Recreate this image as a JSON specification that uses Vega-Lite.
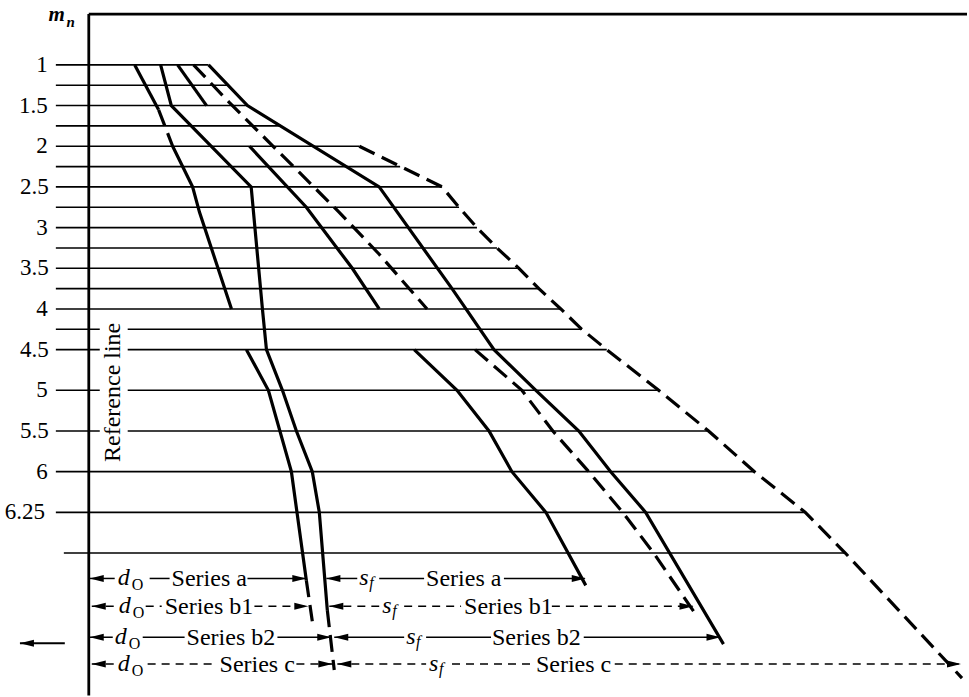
{
  "$schema": "https://vega.github.io/schema/vega-lite/v6.json",
  "width": 969,
  "height": 697,
  "autosize": {"type": "fit", "contains": "padding"},
  "padding": 0,
  "background": "white",
  "config": {"view": {"stroke": null}, "text": {"font": "Liberation Serif", "color": "black"}},
  "datasets": {
    "grid": [
      {"x": -3.75, "x2": 13.64, "y": 0},
      {"x": -3.75, "x2": 15.91, "y": 1},
      {"x": -3.75, "x2": 18.07, "y": 2},
      {"x": -3.75, "x2": 21.82, "y": 3},
      {"x": -3.75, "x2": 30.8, "y": 4},
      {"x": -3.75, "x2": 35.45, "y": 5},
      {"x": -3.75, "x2": 40.23, "y": 6},
      {"x": -3.75, "x2": 42.16, "y": 7},
      {"x": -3.75, "x2": 44.2, "y": 8},
      {"x": -3.75, "x2": 46.48, "y": 9},
      {"x": -3.75, "x2": 48.98, "y": 10},
      {"x": -3.75, "x2": 51.25, "y": 11},
      {"x": -3.75, "x2": 53.75, "y": 12},
      {"x": -3.75, "x2": 1.25, "y": 13},
      {"x": 4.43, "x2": 56.14, "y": 13},
      {"x": -3.75, "x2": 1.25, "y": 14},
      {"x": 4.43, "x2": 58.98, "y": 14},
      {"x": -3.75, "x2": 1.25, "y": 16},
      {"x": 4.43, "x2": 64.89, "y": 16},
      {"x": -3.75, "x2": 1.25, "y": 18},
      {"x": 4.43, "x2": 70.57, "y": 18},
      {"x": -3.75, "x2": 75.8, "y": 20},
      {"x": -3.75, "x2": 81.59, "y": 22},
      {"x": -2.84, "x2": 86.14, "y": 24}
    ],
    "frameTop": [{"x": 0, "x2": 100, "y": -2.5}],
    "frameLeft": [{"x": 0, "y": -2.5, "y2": 31}],
    "curves": [
      {"seg": "c1a", "style": "solid", "i": 0, "x": 5.23, "y": 0},
      {"seg": "c1a", "style": "solid", "i": 1, "x": 7.95, "y": 2.21},
      {"seg": "c1b", "style": "dashed", "i": 0, "x": 7.95, "y": 2.21},
      {"seg": "c1b", "style": "dashed", "i": 1, "x": 9.55, "y": 4},
      {"seg": "c1c", "style": "solid", "i": 0, "x": 9.55, "y": 4},
      {"seg": "c1c", "style": "solid", "i": 1, "x": 11.82, "y": 6},
      {"seg": "c1c", "style": "solid", "i": 2, "x": 12.61, "y": 7.25},
      {"seg": "c1c", "style": "solid", "i": 3, "x": 16.25, "y": 12},
      {"seg": "c2a", "style": "solid", "i": 0, "x": 8.18, "y": 0},
      {"seg": "c2a", "style": "solid", "i": 1, "x": 9.4, "y": 2},
      {"seg": "c2a", "style": "solid", "i": 2, "x": 18.49, "y": 6},
      {"seg": "c2a", "style": "solid", "i": 3, "x": 19.77, "y": 12},
      {"seg": "c2a", "style": "solid", "i": 4, "x": 20.23, "y": 14},
      {"seg": "c2a", "style": "solid", "i": 5, "x": 22.05, "y": 16},
      {"seg": "c2a", "style": "solid", "i": 6, "x": 23.64, "y": 18},
      {"seg": "c2a", "style": "solid", "i": 7, "x": 25.45, "y": 20},
      {"seg": "c2a", "style": "solid", "i": 8, "x": 26.25, "y": 22},
      {"seg": "c2a", "style": "solid", "i": 9, "x": 27.16, "y": 26.81},
      {"seg": "c2b", "style": "dashed", "i": 0, "x": 27.16, "y": 26.81},
      {"seg": "c2b", "style": "dashed", "i": 1, "x": 27.95, "y": 29.75},
      {"seg": "c3", "style": "solid", "i": 0, "x": 10.11, "y": 0},
      {"seg": "c3", "style": "solid", "i": 1, "x": 13.41, "y": 2},
      {"seg": "c4", "style": "dashed", "i": 0, "x": 11.93, "y": 0},
      {"seg": "c4", "style": "dashed", "i": 1, "x": 16.02, "y": 1.86},
      {"seg": "c4", "style": "dashed", "i": 2, "x": 23.98, "y": 5.29},
      {"seg": "c4", "style": "dashed", "i": 3, "x": 28.52, "y": 7.25},
      {"seg": "c4", "style": "dashed", "i": 4, "x": 33.07, "y": 9.31},
      {"seg": "c4", "style": "dashed", "i": 5, "x": 38.52, "y": 12},
      {"seg": "c5", "style": "solid", "i": 0, "x": 13.64, "y": 0},
      {"seg": "c5", "style": "solid", "i": 1, "x": 18.07, "y": 2},
      {"seg": "c5", "style": "solid", "i": 2, "x": 33.07, "y": 6},
      {"seg": "c5", "style": "solid", "i": 3, "x": 41.36, "y": 11},
      {"seg": "c5", "style": "solid", "i": 4, "x": 46.14, "y": 14},
      {"seg": "c5", "style": "solid", "i": 5, "x": 50.91, "y": 16},
      {"seg": "c5", "style": "solid", "i": 6, "x": 55.8, "y": 18},
      {"seg": "c5", "style": "solid", "i": 7, "x": 59.43, "y": 20},
      {"seg": "c5", "style": "solid", "i": 8, "x": 63.41, "y": 22},
      {"seg": "c5", "style": "solid", "i": 9, "x": 72.27, "y": 28.48},
      {"seg": "c6", "style": "dashed", "i": 0, "x": 30.8, "y": 4},
      {"seg": "c6", "style": "dashed", "i": 1, "x": 40.23, "y": 6},
      {"seg": "c6", "style": "dashed", "i": 2, "x": 42.16, "y": 7},
      {"seg": "c6", "style": "dashed", "i": 3, "x": 44.2, "y": 8},
      {"seg": "c6", "style": "dashed", "i": 4, "x": 46.48, "y": 9},
      {"seg": "c6", "style": "dashed", "i": 5, "x": 48.98, "y": 10},
      {"seg": "c6", "style": "dashed", "i": 6, "x": 51.25, "y": 11},
      {"seg": "c6", "style": "dashed", "i": 7, "x": 53.75, "y": 12},
      {"seg": "c6", "style": "dashed", "i": 8, "x": 56.14, "y": 13},
      {"seg": "c6", "style": "dashed", "i": 9, "x": 58.98, "y": 14},
      {"seg": "c6", "style": "dashed", "i": 10, "x": 64.89, "y": 16},
      {"seg": "c6", "style": "dashed", "i": 11, "x": 70.57, "y": 18},
      {"seg": "c6", "style": "dashed", "i": 12, "x": 75.8, "y": 20},
      {"seg": "c6", "style": "dashed", "i": 13, "x": 81.59, "y": 22},
      {"seg": "c6", "style": "dashed", "i": 14, "x": 86.14, "y": 24},
      {"seg": "c6", "style": "dashed", "i": 15, "x": 99.43, "y": 30.15},
      {"seg": "c7", "style": "solid", "i": 0, "x": 18.3, "y": 4},
      {"seg": "c7", "style": "solid", "i": 1, "x": 24.77, "y": 7},
      {"seg": "c7", "style": "solid", "i": 2, "x": 30.0, "y": 10},
      {"seg": "c7", "style": "solid", "i": 3, "x": 33.07, "y": 12},
      {"seg": "c8a", "style": "solid", "i": 0, "x": 17.95, "y": 14},
      {"seg": "c8a", "style": "solid", "i": 1, "x": 20.45, "y": 16},
      {"seg": "c8a", "style": "solid", "i": 2, "x": 23.07, "y": 20},
      {"seg": "c8a", "style": "solid", "i": 3, "x": 24.77, "y": 25.34},
      {"seg": "c8b", "style": "dashed", "i": 0, "x": 24.77, "y": 25.34},
      {"seg": "c8b", "style": "dashed", "i": 1, "x": 25.45, "y": 27.35},
      {"seg": "c9", "style": "solid", "i": 0, "x": 37.05, "y": 14},
      {"seg": "c9", "style": "solid", "i": 1, "x": 41.93, "y": 16},
      {"seg": "c9", "style": "solid", "i": 2, "x": 45.57, "y": 18},
      {"seg": "c9", "style": "solid", "i": 3, "x": 48.18, "y": 20},
      {"seg": "c9", "style": "solid", "i": 4, "x": 52.05, "y": 22},
      {"seg": "c9", "style": "solid", "i": 5, "x": 56.59, "y": 25.59},
      {"seg": "c10", "style": "dashed", "i": 0, "x": 43.98, "y": 14},
      {"seg": "c10", "style": "dashed", "i": 1, "x": 49.32, "y": 16},
      {"seg": "c10", "style": "dashed", "i": 2, "x": 52.84, "y": 18},
      {"seg": "c10", "style": "dashed", "i": 3, "x": 56.93, "y": 20},
      {"seg": "c10", "style": "dashed", "i": 4, "x": 60.8, "y": 22},
      {"seg": "c10", "style": "dashed", "i": 5, "x": 64.32, "y": 24},
      {"seg": "c10", "style": "dashed", "i": 6, "x": 68.86, "y": 26.86}
    ],
    "arrows": [
      {"style": "solid", "x": 0.11, "x2": 2.95, "y": 25.25},
      {"style": "solid", "x": 6.93, "x2": 9.2, "y": 25.25},
      {"style": "solid", "x": 18.07, "x2": 24.66, "y": 25.25},
      {"style": "solid", "x": 27.05, "x2": 30.57, "y": 25.25},
      {"style": "solid", "x": 33.07, "x2": 38.18, "y": 25.25},
      {"style": "solid", "x": 47.27, "x2": 56.48, "y": 25.25},
      {"style": "dashed", "x": 0.34, "x2": 2.84, "y": 26.62},
      {"style": "dashed", "x": 6.48, "x2": 8.3, "y": 26.62},
      {"style": "dashed", "x": 18.86, "x2": 24.89, "y": 26.62},
      {"style": "dashed", "x": 27.39, "x2": 33.07, "y": 26.62},
      {"style": "dashed", "x": 35.91, "x2": 42.39, "y": 26.62},
      {"style": "dashed", "x": 52.73, "x2": 68.75, "y": 26.62},
      {"style": "solid", "x": 0.11, "x2": 2.73, "y": 28.14},
      {"style": "solid", "x": 6.14, "x2": 10.91, "y": 28.14},
      {"style": "solid", "x": 21.48, "x2": 27.5, "y": 28.14},
      {"style": "solid", "x": 27.95, "x2": 35.91, "y": 28.14},
      {"style": "solid", "x": 38.41, "x2": 45.8, "y": 28.14},
      {"style": "solid", "x": 56.36, "x2": 71.82, "y": 28.14},
      {"style": "dashed", "x": 0.34, "x2": 2.84, "y": 29.46},
      {"style": "dashed", "x": 6.7, "x2": 14.55, "y": 29.46},
      {"style": "dashed", "x": 23.64, "x2": 27.73, "y": 29.46},
      {"style": "dashed", "x": 28.3, "x2": 38.41, "y": 29.46},
      {"style": "dashed", "x": 41.36, "x2": 50.45, "y": 29.46},
      {"style": "dashed", "x": 59.89, "x2": 99.2, "y": 29.46}
    ],
    "sideArrow": [{"x": -7.84, "x2": -2.73, "y": 28.43}],
    "headsLeft": [
      {"x": 0.11, "y": 25.25},
      {"x": 0.34, "y": 26.62},
      {"x": 0.11, "y": 28.14},
      {"x": 0.34, "y": 29.46},
      {"x": 27.05, "y": 25.25},
      {"x": 27.39, "y": 26.62},
      {"x": 27.95, "y": 28.14},
      {"x": 28.3, "y": 29.46},
      {"x": -7.84, "y": 28.43}
    ],
    "headsRight": [
      {"x": 24.77, "y": 25.25},
      {"x": 25.0, "y": 26.62},
      {"x": 27.61, "y": 28.14},
      {"x": 27.73, "y": 29.46},
      {"x": 56.59, "y": 25.25},
      {"x": 68.86, "y": 26.62},
      {"x": 71.93, "y": 28.14},
      {"x": 99.32, "y": 29.46}
    ],
    "ticks": [
      {"x": -4.66, "y": 0, "text": "1"},
      {"x": -4.66, "y": 2, "text": "1.5"},
      {"x": -4.66, "y": 4, "text": "2"},
      {"x": -4.55, "y": 6, "text": "2.5"},
      {"x": -4.66, "y": 8, "text": "3"},
      {"x": -4.55, "y": 10, "text": "3.5"},
      {"x": -4.66, "y": 12, "text": "4"},
      {"x": -4.55, "y": 14, "text": "4.5"},
      {"x": -4.66, "y": 16, "text": "5"},
      {"x": -4.55, "y": 18, "text": "5.5"},
      {"x": -4.66, "y": 20, "text": "6"},
      {"x": -5.0, "y": 22, "text": "6.25"}
    ],
    "series": [
      {"x": 9.43, "y": 25.25, "text": "Series a"},
      {"x": 8.64, "y": 26.62, "text": "Series b1"},
      {"x": 11.14, "y": 28.14, "text": "Series b2"},
      {"x": 14.89, "y": 29.46, "text": "Series c"},
      {"x": 38.41, "y": 25.25, "text": "Series a"},
      {"x": 42.73, "y": 26.62, "text": "Series b1"},
      {"x": 45.91, "y": 28.14, "text": "Series b2"},
      {"x": 50.91, "y": 29.46, "text": "Series c"}
    ],
    "symbols": [
      {"x": 3.3, "y": 25.25, "text": "d"},
      {"x": 3.41, "y": 26.62, "text": "d"},
      {"x": 2.95, "y": 28.14, "text": "d"},
      {"x": 3.3, "y": 29.46, "text": "d"},
      {"x": 30.8, "y": 25.25, "text": "s"},
      {"x": 33.41, "y": 26.62, "text": "s"},
      {"x": 36.14, "y": 28.14, "text": "s"},
      {"x": 38.75, "y": 29.46, "text": "s"}
    ],
    "subO": [
      {"x": 4.89, "y": 25.25, "text": "O"},
      {"x": 5.0, "y": 26.62, "text": "O"},
      {"x": 4.55, "y": 28.14, "text": "O"},
      {"x": 4.89, "y": 29.46, "text": "O"}
    ],
    "subF": [
      {"x": 31.93, "y": 25.25, "text": "f"},
      {"x": 34.55, "y": 26.62, "text": "f"},
      {"x": 37.27, "y": 28.14, "text": "f"},
      {"x": 39.89, "y": 29.46, "text": "f"}
    ],
    "mLabel": [{"x": -4.6, "y": -2.16, "text": "m"}],
    "nLabel": [{"x": -2.55, "y": -1.86, "text": "n"}],
    "refLabel": [{"x": 2.78, "y": 16.1, "text": "Reference line"}]
  },
  "encoding": {
    "x": {"field": "x", "type": "quantitative", "scale": {"domain": [-10.11, 100], "nice": false, "zero": false}, "axis": null},
    "y": {"field": "y", "type": "quantitative", "scale": {"domain": [-3.19, 30.98], "nice": false, "zero": false, "reverse": true}, "axis": null}
  },
  "layer": [
    {
      "data": {"name": "grid"},
      "mark": {"type": "rule", "color": "black", "strokeWidth": 1.6},
      "encoding": {"x2": {"field": "x2"}}
    },
    {
      "data": {"name": "frameTop"},
      "mark": {"type": "rule", "color": "black", "strokeWidth": 2.8},
      "encoding": {"x2": {"field": "x2"}}
    },
    {
      "data": {"name": "frameLeft"},
      "mark": {"type": "rule", "color": "black", "strokeWidth": 2.8},
      "encoding": {"y2": {"field": "y2"}}
    },
    {
      "data": {"name": "curves"},
      "transform": [{"filter": "datum.style == 'solid'"}],
      "mark": {"type": "line", "color": "black", "strokeWidth": 3.2, "strokeCap": "butt"},
      "encoding": {"detail": {"field": "seg"}, "order": {"field": "i"}}
    },
    {
      "data": {"name": "curves"},
      "transform": [{"filter": "datum.style == 'dashed'"}],
      "mark": {"type": "line", "color": "black", "strokeWidth": 3.2, "strokeDash": [17, 8], "strokeCap": "butt"},
      "encoding": {"detail": {"field": "seg"}, "order": {"field": "i"}}
    },
    {
      "data": {"name": "arrows"},
      "transform": [{"filter": "datum.style == 'solid'"}],
      "mark": {"type": "rule", "color": "black", "strokeWidth": 1.5},
      "encoding": {"x2": {"field": "x2"}}
    },
    {
      "data": {"name": "arrows"},
      "transform": [{"filter": "datum.style == 'dashed'"}],
      "mark": {"type": "rule", "color": "black", "strokeWidth": 1.5, "strokeDash": [8, 6]},
      "encoding": {"x2": {"field": "x2"}}
    },
    {
      "data": {"name": "sideArrow"},
      "mark": {"type": "rule", "color": "black", "strokeWidth": 2},
      "encoding": {"x2": {"field": "x2"}}
    },
    {
      "data": {"name": "headsLeft"},
      "mark": {"type": "point", "shape": "M0,0L2,-0.5L2,0.5Z", "size": 196, "filled": true, "color": "black", "opacity": 1}
    },
    {
      "data": {"name": "headsRight"},
      "mark": {"type": "point", "shape": "M0,0L-2,-0.5L-2,0.5Z", "size": 196, "filled": true, "color": "black", "opacity": 1}
    },
    {
      "data": {"name": "ticks"},
      "mark": {"type": "text", "fontSize": 23, "align": "right", "baseline": "middle"},
      "encoding": {"text": {"field": "text"}}
    },
    {
      "data": {"name": "series"},
      "mark": {"type": "text", "fontSize": 24, "align": "left", "baseline": "alphabetic", "dy": 8},
      "encoding": {"text": {"field": "text"}}
    },
    {
      "data": {"name": "symbols"},
      "mark": {"type": "text", "fontSize": 24, "fontStyle": "italic", "align": "left", "baseline": "alphabetic", "dy": 7},
      "encoding": {"text": {"field": "text"}}
    },
    {
      "data": {"name": "subO"},
      "mark": {"type": "text", "fontSize": 16, "align": "left", "baseline": "alphabetic", "dy": 12},
      "encoding": {"text": {"field": "text"}}
    },
    {
      "data": {"name": "subF"},
      "mark": {"type": "text", "fontSize": 16, "fontStyle": "italic", "align": "left", "baseline": "alphabetic", "dy": 10},
      "encoding": {"text": {"field": "text"}}
    },
    {
      "data": {"name": "mLabel"},
      "mark": {"type": "text", "fontSize": 21, "fontStyle": "italic", "fontWeight": "bold", "align": "left", "baseline": "alphabetic"},
      "encoding": {"text": {"field": "text"}}
    },
    {
      "data": {"name": "nLabel"},
      "mark": {"type": "text", "fontSize": 15, "fontStyle": "italic", "fontWeight": "bold", "align": "left", "baseline": "alphabetic"},
      "encoding": {"text": {"field": "text"}}
    },
    {
      "data": {"name": "refLabel"},
      "mark": {"type": "text", "fontSize": 24, "angle": 270, "align": "center", "baseline": "middle"},
      "encoding": {"text": {"field": "text"}}
    }
  ]
}
